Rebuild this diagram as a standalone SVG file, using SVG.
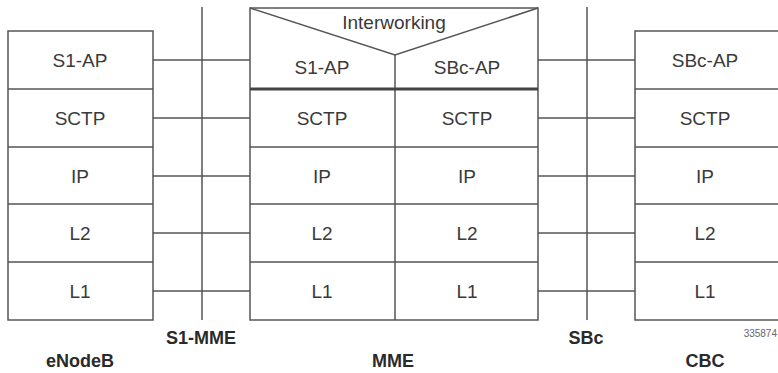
<svg xmlns="http://www.w3.org/2000/svg" width="778" height="373" viewBox="0 0 778 373">
<style>
.ln{stroke:#555;stroke-width:1.5;fill:none}
.bx{stroke:#555;stroke-width:1.5;fill:#fff}
.thick{stroke:#444;stroke-width:3;fill:none}
.t{font-family:"Liberation Sans",Arial,sans-serif;font-size:19px;fill:#3a3a3a;text-anchor:middle}
.b{font-family:"Liberation Sans",Arial,sans-serif;font-size:18px;font-weight:bold;fill:#2a2a2a;text-anchor:middle}
.s{font-family:"Liberation Sans",Arial,sans-serif;font-size:10px;fill:#666;text-anchor:end}
</style>
<rect width="778" height="373" fill="#fff"/>
<g id="connectors">
<line class="ln" x1="202" y1="7" x2="202" y2="320"/>
<line class="ln" x1="587" y1="7" x2="587" y2="320"/>
<line class="ln" x1="153" y1="60" x2="250" y2="60"/>
<line class="ln" x1="153" y1="118" x2="250" y2="118"/>
<line class="ln" x1="153" y1="176" x2="250" y2="176"/>
<line class="ln" x1="153" y1="233" x2="250" y2="233"/>
<line class="ln" x1="153" y1="291" x2="250" y2="291"/>
<line class="ln" x1="538" y1="60" x2="635" y2="60"/>
<line class="ln" x1="538" y1="118" x2="635" y2="118"/>
<line class="ln" x1="538" y1="176" x2="635" y2="176"/>
<line class="ln" x1="538" y1="233" x2="635" y2="233"/>
<line class="ln" x1="538" y1="291" x2="635" y2="291"/>
</g>
<g id="enodeb">
<rect class="bx" x="8" y="31" width="145" height="289"/>
<line class="ln" x1="8" y1="89" x2="153" y2="89"/>
<line class="ln" x1="8" y1="147" x2="153" y2="147"/>
<line class="ln" x1="8" y1="204" x2="153" y2="204"/>
<line class="ln" x1="8" y1="262" x2="153" y2="262"/>
<text class="t" x="80" y="67">S1-AP</text>
<text class="t" x="80" y="125">SCTP</text>
<text class="t" x="80" y="183">IP</text>
<text class="t" x="80" y="240">L2</text>
<text class="t" x="80" y="298">L1</text>
<text class="b" x="80" y="367">eNodeB</text>
</g>
<g id="mme">
<rect class="bx" x="250" y="8" width="288" height="312"/>
<polyline class="ln" points="250,8 395,55 538,8"/>
<line class="ln" x1="395" y1="55" x2="395" y2="320"/>
<line class="thick" x1="250" y1="89" x2="538" y2="89"/>
<line class="ln" x1="250" y1="147" x2="538" y2="147"/>
<line class="ln" x1="250" y1="204" x2="538" y2="204"/>
<line class="ln" x1="250" y1="262" x2="538" y2="262"/>
<text class="t" x="394" y="29">Interworking</text>
<text class="t" x="322" y="74">S1-AP</text>
<text class="t" x="467" y="74">SBc-AP</text>
<text class="t" x="322" y="125">SCTP</text>
<text class="t" x="467" y="125">SCTP</text>
<text class="t" x="322" y="183">IP</text>
<text class="t" x="467" y="183">IP</text>
<text class="t" x="322" y="240">L2</text>
<text class="t" x="467" y="240">L2</text>
<text class="t" x="322" y="298">L1</text>
<text class="t" x="467" y="298">L1</text>
<text class="b" x="393" y="367">MME</text>
</g>
<g id="cbc">
<rect class="bx" x="635" y="31" width="160" height="289"/>
<line class="ln" x1="635" y1="89" x2="778" y2="89"/>
<line class="ln" x1="635" y1="147" x2="778" y2="147"/>
<line class="ln" x1="635" y1="204" x2="778" y2="204"/>
<line class="ln" x1="635" y1="262" x2="778" y2="262"/>
<text class="t" x="705" y="67">SBc-AP</text>
<text class="t" x="705" y="125">SCTP</text>
<text class="t" x="705" y="183">IP</text>
<text class="t" x="705" y="240">L2</text>
<text class="t" x="705" y="298">L1</text>
<text class="b" x="705" y="367">CBC</text>
</g>
<g id="labels">
<text class="b" x="201" y="344">S1-MME</text>
<text class="b" x="586" y="344">SBc</text>
<text class="s" x="777" y="337">335874</text>
</g>
</svg>
